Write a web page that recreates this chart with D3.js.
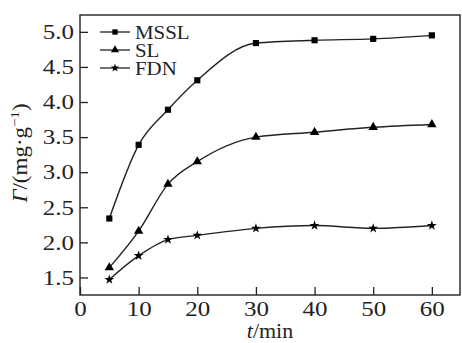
<!DOCTYPE html>
<html><head><meta charset="utf-8">
<script src="https://cdn.jsdelivr.net/npm/d3@7/dist/d3.min.js"></script>
<style>html,body{margin:0;padding:0;background:#fff;}svg{display:block;}
svg text{font-family:"Liberation Serif","Tinos","Times New Roman",Times,serif;}</style>
</head><body>
<script>
const times = [5, 10, 15, 20, 30, 40, 50, 60];
const mssl = [2.34, 3.39, 3.89, 4.31, 4.84, 4.88, 4.90, 4.95];
const sl   = [1.64, 2.16, 2.83, 3.15, 3.50, 3.57, 3.64, 3.68];
const fdn  = [1.47, 1.81, 2.04, 2.10, 2.20, 2.24, 2.20, 2.24];
const seriesNames = ["MSSL", "SL", "FDN"];
const xTicks = [0, 10, 20, 30, 40, 50, 60];
const yTicks = [1.5, 2.0, 2.5, 3.0, 3.5, 4.0, 4.5, 5.0];

const W = 462, H = 343;
const svg = d3.select("body").append("svg").attr("width", W).attr("height", H);

const x = d3.scaleLinear().domain([0, 64.8]).range([80, 460]);
const y = d3.scaleLinear().domain([1.25, 5.24]).range([295, 15]);

// frame
svg.append("rect").attr("x", 80).attr("y", 15).attr("width", 380).attr("height", 280)
  .attr("fill", "none").attr("stroke", "#222").attr("stroke-width", 1.4);

// axes
const ax = svg.append("g").attr("transform", "translate(0,295)")
  .call(d3.axisBottom(x).tickValues(xTicks).tickSizeInner(-8).tickSizeOuter(0).tickPadding(0));
const ay = svg.append("g").attr("transform", "translate(80,0)")
  .call(d3.axisLeft(y).tickValues(yTicks).tickFormat(d3.format(".1f")).tickSizeInner(-8).tickSizeOuter(0).tickPadding(0));
[ax, ay].forEach(g => {
  g.attr("font-family", null).attr("font-size", null);
  g.select(".domain").remove();
  g.selectAll(".tick line").attr("stroke", "#222").attr("stroke-width", 1.3);
  g.selectAll(".tick text").style("font-size", "20px").attr("fill", "#222");
});
ax.selectAll(".tick text").attr("y", 0).attr("dy", 0)
  .attr("transform", "translate(0,21) scale(1.25,1)");
ay.selectAll(".tick text").attr("x", 0).attr("dy", "0.34em")
  .attr("transform", "translate(-6,0) scale(1.25,1)");

// series
const data = [mssl, sl, fdn];
const sym = [d3.symbolSquare, d3.symbolTriangle, d3.symbolStar];
const symSize = [38, 38, 30];
const line = d3.line().x((d, i) => x(times[i])).y(d => y(d)).curve(d3.curveMonotoneX);
data.forEach((vals, k) => {
  svg.append("path").attr("d", line(vals)).attr("fill", "none")
    .attr("stroke", "#222").attr("stroke-width", 1.4);
  svg.append("g").selectAll("path").data(vals).join("path")
    .attr("transform", (d, i) => `translate(${x(times[i])},${y(d)})`)
    .attr("d", d3.symbol().type(sym[k]).size(symSize[k]))
    .attr("fill", "#000");
});

// legend
const legY = [32, 50, 68];
seriesNames.forEach((n, k) => {
  const g = svg.append("g");
  g.append("line").attr("x1", 100).attr("x2", 130).attr("y1", legY[k]).attr("y2", legY[k])
    .attr("stroke", "#222").attr("stroke-width", 1.3);
  g.append("path").attr("transform", `translate(115,${legY[k]})`)
    .attr("d", d3.symbol().type(sym[k]).size(symSize[k] * 0.75)).attr("fill", "#000");
  g.append("text").attr("transform", `translate(135,${legY[k] + 6.5}) scale(1.1,1)`)
    .style("font-size", "19px").attr("fill", "#222").text(n);
});

// axis titles
const xl = svg.append("text").attr("transform", "translate(270,338) scale(1.1,1)")
  .attr("text-anchor", "middle").style("font-size", "20px").attr("fill", "#222");
xl.append("tspan").attr("font-style", "italic").text("t");
xl.append("tspan").text("/min");

const yl = svg.append("text").attr("transform", "translate(27,153) rotate(-90) scale(1.15,1)")
  .attr("text-anchor", "middle").style("font-size", "20px").attr("fill", "#222");
yl.append("tspan").attr("font-style", "italic").text("Γ");
yl.append("tspan").text("/(mg·g");
yl.append("tspan").style("font-size", "13px").attr("dy", -8).text("−1");
yl.append("tspan").attr("dy", 8).text(")");
</script>
</body></html>
